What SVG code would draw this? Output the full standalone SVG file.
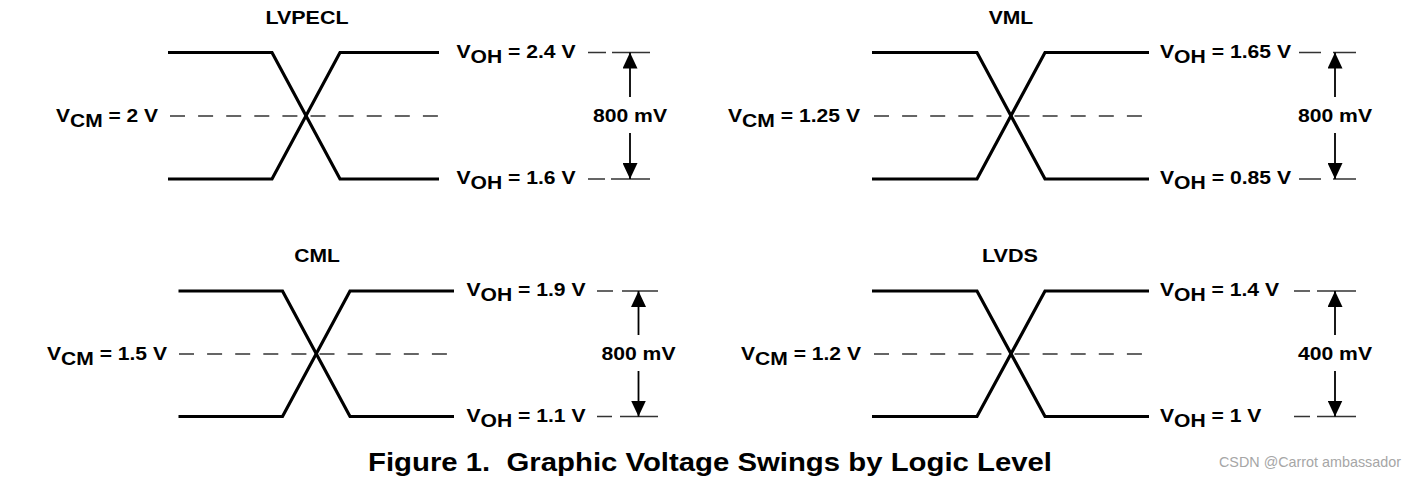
<svg xmlns="http://www.w3.org/2000/svg" width="1416" height="478" viewBox="0 0 1416 478">
<style>
  .sig{fill:none;stroke:#000;stroke-width:3.2;stroke-linejoin:miter}
  .cm{fill:none;stroke:#333;stroke-width:1.3;stroke-dasharray:15,13.1}
  .ref{fill:none;stroke:#333;stroke-width:1.3}
  .arr{fill:none;stroke:#000;stroke-width:1.8}
  .t{font-family:"Liberation Sans",Arial,Helvetica,sans-serif;font-weight:bold;font-size:19px;fill:#000}
  .cap{font-family:"Liberation Sans",Arial,Helvetica,sans-serif;font-weight:bold;font-size:25px;fill:#000}
  .wm{font-family:"Liberation Sans",Arial,Helvetica,sans-serif;font-size:15px;fill:#a6a6a6}
</style>
<defs>
  <marker id="ah" viewBox="0 0 16 15" markerWidth="16" markerHeight="15" refX="16" refY="7.5" orient="auto" markerUnits="userSpaceOnUse">
    <path d="M0,0 L16,7.5 L0,15 Z" fill="#000"/>
  </marker>
</defs>
<rect width="1416" height="478" fill="#fff"/>

<g id="panel-lvpecl">
  <text class="t" x="307" y="23.5" text-anchor="middle" textLength="83" lengthAdjust="spacingAndGlyphs">LVPECL</text>
  <path class="sig" d="M168 52.5 H272 L340 179 H439"/>
  <path class="sig" d="M168 179 H272 L340 52.5 H439"/>
  <path class="cm" d="M170 116 H438"/>
  <text class="t" x="56" y="121.5" textLength="102" lengthAdjust="spacingAndGlyphs">V<tspan dy="5">CM</tspan><tspan dy="-5"> = 2 V</tspan></text>
  <text class="t" x="456.5" y="57.5" textLength="119" lengthAdjust="spacingAndGlyphs">V<tspan dy="5">OH</tspan><tspan dy="-5"> = 2.4 V</tspan></text>
  <text class="t" x="456.5" y="184" textLength="119" lengthAdjust="spacingAndGlyphs">V<tspan dy="5">OH</tspan><tspan dy="-5"> = 1.6 V</tspan></text>
  <path class="ref" d="M588 52.5 H606 M612 52.5 H650 M588 179 H605 M611 179 H650"/>
  <text class="t" x="630" y="122" text-anchor="middle" textLength="74" lengthAdjust="spacingAndGlyphs">800 mV</text>
</g>

<g id="panel-vml">
  <text class="t" x="1011" y="23.5" text-anchor="middle" textLength="44.5" lengthAdjust="spacingAndGlyphs">VML</text>
  <path class="sig" d="M872 52.5 H977 L1045 179 H1149"/>
  <path class="sig" d="M872 179 H977 L1045 52.5 H1149"/>
  <path class="cm" d="M874 116 H1143"/>
  <text class="t" x="728" y="121.5" textLength="132" lengthAdjust="spacingAndGlyphs">V<tspan dy="5">CM</tspan><tspan dy="-5"> = 1.25 V</tspan></text>
  <text class="t" x="1160" y="57.5" textLength="131" lengthAdjust="spacingAndGlyphs">V<tspan dy="5">OH</tspan><tspan dy="-5"> = 1.65 V</tspan></text>
  <text class="t" x="1160" y="184" textLength="131" lengthAdjust="spacingAndGlyphs">V<tspan dy="5">OH</tspan><tspan dy="-5"> = 0.85 V</tspan></text>
  <path class="ref" d="M1299 52.5 H1321 M1333 52.5 H1356 M1299 179 H1321 M1333 179 H1356"/>
  <text class="t" x="1335" y="122" text-anchor="middle" textLength="74" lengthAdjust="spacingAndGlyphs">800 mV</text>
</g>

<g id="panel-cml">
  <text class="t" x="317" y="261.5" text-anchor="middle" textLength="45.6" lengthAdjust="spacingAndGlyphs">CML</text>
  <path class="sig" d="M178.5 291 H282.5 L350 416.5 H454"/>
  <path class="sig" d="M178.5 416.5 H282.5 L350 291 H454"/>
  <path class="cm" d="M179 354 H448"/>
  <text class="t" x="47" y="359.5" textLength="120" lengthAdjust="spacingAndGlyphs">V<tspan dy="5">CM</tspan><tspan dy="-5"> = 1.5 V</tspan></text>
  <text class="t" x="466.5" y="296" textLength="119" lengthAdjust="spacingAndGlyphs">V<tspan dy="5">OH</tspan><tspan dy="-5"> = 1.9 V</tspan></text>
  <text class="t" x="466.5" y="421.5" textLength="119" lengthAdjust="spacingAndGlyphs">V<tspan dy="5">OH</tspan><tspan dy="-5"> = 1.1 V</tspan></text>
  <path class="ref" d="M597 291 H613 M622 291 H658 M597 416.5 H612 M620 416.5 H658"/>
  <text class="t" x="638.5" y="360" text-anchor="middle" textLength="74" lengthAdjust="spacingAndGlyphs">800 mV</text>
</g>

<g id="panel-lvds">
  <text class="t" x="1010" y="261.5" text-anchor="middle" textLength="56" lengthAdjust="spacingAndGlyphs">LVDS</text>
  <path class="sig" d="M872 291 H977 L1045 416.5 H1149"/>
  <path class="sig" d="M872 416.5 H977 L1045 291 H1149"/>
  <path class="cm" d="M874 354 H1143"/>
  <text class="t" x="741" y="359.5" textLength="120" lengthAdjust="spacingAndGlyphs">V<tspan dy="5">CM</tspan><tspan dy="-5"> = 1.2 V</tspan></text>
  <text class="t" x="1160" y="296" textLength="119" lengthAdjust="spacingAndGlyphs">V<tspan dy="5">OH</tspan><tspan dy="-5"> = 1.4 V</tspan></text>
  <text class="t" x="1160" y="421.5" textLength="101.3" lengthAdjust="spacingAndGlyphs">V<tspan dy="5">OH</tspan><tspan dy="-5"> = 1 V</tspan></text>
  <path class="ref" d="M1294 291 H1310 M1317 291 H1356 M1294 416.5 H1310 M1317 416.5 H1356"/>
  <text class="t" x="1335" y="360" text-anchor="middle" textLength="74" lengthAdjust="spacingAndGlyphs">400 mV</text>
</g>

<g id="connectors">
  <path class="arr" d="M630 97 V52.5" marker-end="url(#ah)"/>
  <path class="arr" d="M630 133 V179" marker-end="url(#ah)"/>
  <path class="arr" d="M1335 97 V52.5" marker-end="url(#ah)"/>
  <path class="arr" d="M1335 133 V179" marker-end="url(#ah)"/>
  <path class="arr" d="M638.5 335 V291" marker-end="url(#ah)"/>
  <path class="arr" d="M638.5 371 V416.5" marker-end="url(#ah)"/>
  <path class="arr" d="M1335 335 V291" marker-end="url(#ah)"/>
  <path class="arr" d="M1335 371 V416.5" marker-end="url(#ah)"/>
</g>

<g id="caption">
  <text class="cap" x="368" y="470.5" xml:space="preserve" textLength="684" lengthAdjust="spacingAndGlyphs">Figure 1.  Graphic Voltage Swings by Logic Level</text>
  <text class="wm" x="1219" y="467" textLength="182" lengthAdjust="spacingAndGlyphs">CSDN @Carrot ambassador</text>
</g>
</svg>
